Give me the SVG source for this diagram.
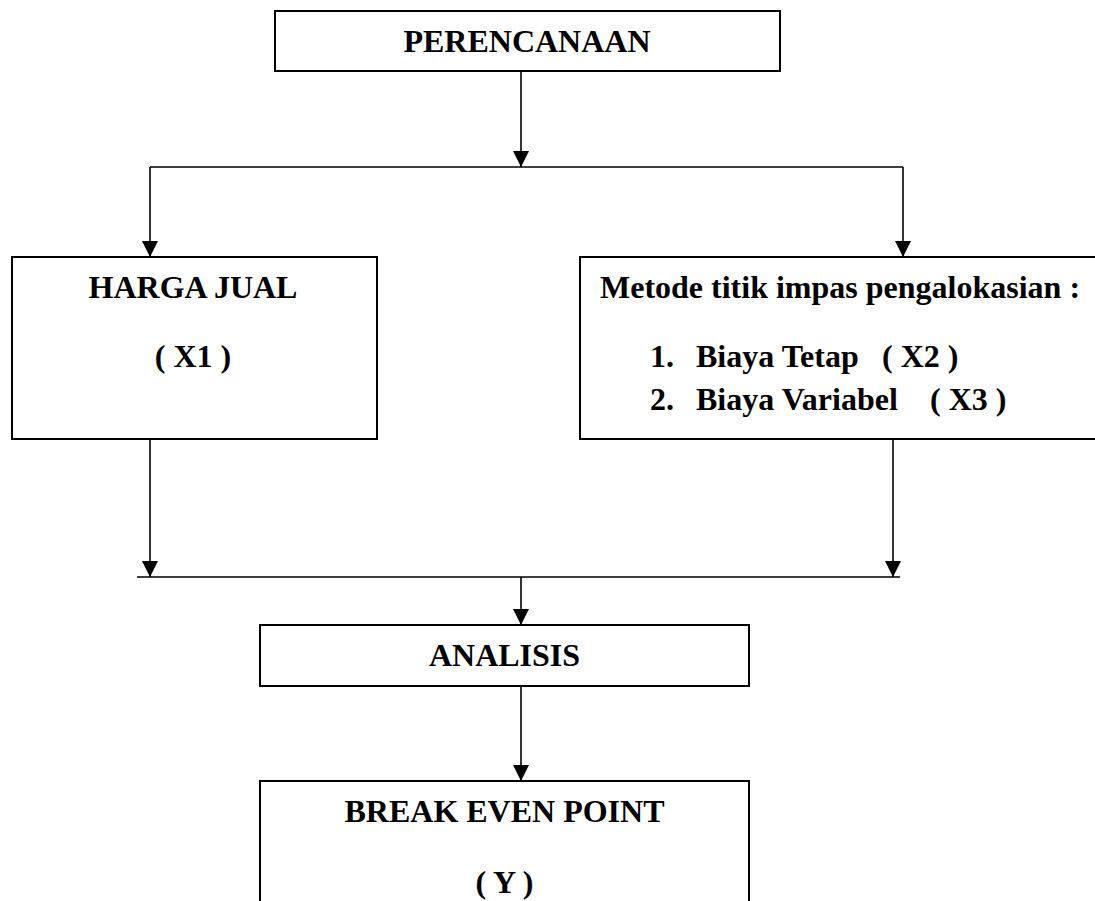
<svg xmlns="http://www.w3.org/2000/svg" width="1095" height="901" viewBox="0 0 1095 901">
<style>
.box{fill:#fff;stroke:#000;stroke-width:2}
.ln{fill:none;stroke:#000;stroke-width:1.6}
text{font-family:"Liberation Serif","Times New Roman",serif;font-weight:bold;font-size:32px;fill:#000}
.c{text-anchor:middle}
</style>
<defs>
<marker id="ah" markerUnits="userSpaceOnUse" markerWidth="16" markerHeight="16" viewBox="0 0 16 16" refX="16" refY="8" orient="auto">
<path d="M0,0 L16,8 L0,16 Z" fill="#000"/>
</marker>
</defs>
<rect width="1095" height="901" fill="#fff"/>
<g id="connectors">
<line class="ln" x1="521" y1="71" x2="521" y2="167" marker-end="url(#ah)"/>
<polyline class="ln" points="150,167 903,167"/>
<line class="ln" x1="150" y1="167" x2="150" y2="257" marker-end="url(#ah)"/>
<line class="ln" x1="903" y1="167" x2="903" y2="257" marker-end="url(#ah)"/>
<line class="ln" x1="150" y1="439" x2="150" y2="577" marker-end="url(#ah)"/>
<line class="ln" x1="893" y1="439" x2="893" y2="577" marker-end="url(#ah)"/>
<line class="ln" x1="137" y1="577" x2="900" y2="577"/>
<line class="ln" x1="521" y1="577" x2="521" y2="625" marker-end="url(#ah)"/>
<line class="ln" x1="521" y1="686" x2="521" y2="781" marker-end="url(#ah)"/>
</g>
<g id="perencanaan">
<rect class="box" x="275" y="11" width="505" height="60"/>
<text class="c" x="527" y="52">PERENCANAAN</text>
</g>
<g id="harga-jual">
<rect class="box" x="12" y="257" width="365" height="182"/>
<text class="c" x="193" y="298">HARGA JUAL</text>
<text class="c" x="193" y="367">( X1 )</text>
</g>
<g id="metode">
<rect class="box" x="580" y="257" width="530" height="182"/>
<text x="600" y="298">Metode titik impas pengalokasian :</text>
<text x="650" y="367">1.</text>
<text x="696" y="367">Biaya Tetap</text>
<text x="882" y="367">( X2 )</text>
<text x="650" y="410">2.</text>
<text x="696" y="410">Biaya Variabel</text>
<text x="930" y="410">( X3 )</text>
</g>
<g id="analisis">
<rect class="box" x="260" y="625" width="489" height="61"/>
<text class="c" x="504.5" y="666">ANALISIS</text>
</g>
<g id="bep">
<rect class="box" x="260" y="781" width="489" height="140"/>
<text class="c" x="504.5" y="822">BREAK EVEN POINT</text>
<text class="c" x="504.5" y="893">( Y )</text>
</g>
</svg>
